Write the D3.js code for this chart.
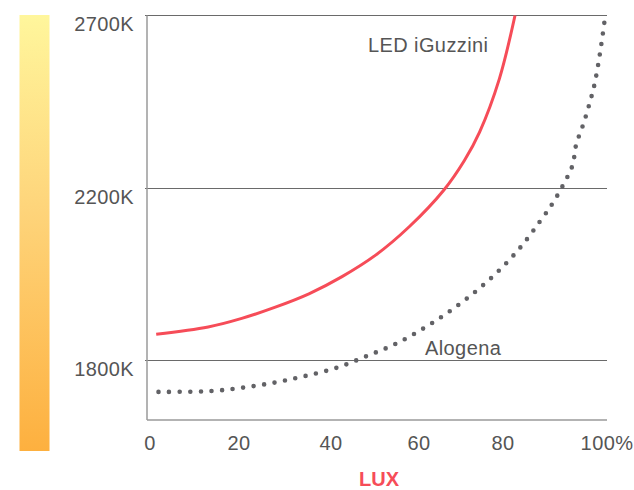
<!DOCTYPE html>
<html>
<head>
<meta charset="utf-8">
<script src="https://cdn.jsdelivr.net/npm/d3@7"></script>
<style>
  html, body { margin: 0; padding: 0; background: #fff; }
  svg { display: block; }
  text { font-family: "Liberation Sans", Arial, Helvetica, sans-serif; }
</style>
</head>
<body>
<script>
// ---- data ----
const yTicks = [1800, 2200, 2700];
const yTickLabels = ["1800K", "2200K", "2700K"];
const xTicks = [0, 20, 40, 60, 80, 100];
const xTickLabels = ["0", "20", "40", "60", "80", "100%"];

const ledX = [2, 13.3, 20.6, 27.9, 35.2, 42.4, 49.7, 57, 64.5, 69, 72.3, 76.6, 80];
const ledK = [1861, 1878, 1898, 1924, 1955, 1995, 2045, 2111, 2196, 2281, 2363, 2517, 2700];

const aloX = [2.5, 14, 20.9, 27.9, 34.4, 41.2, 47.7, 54.1, 60.3, 66, 71.6, 76.7, 81.4, 85.4, 88.2, 90.5, 92.5, 93.3, 94.8, 96.1, 97.3, 98.5, 99.6];
const aloK = [1727, 1729, 1737, 1749, 1764, 1783, 1810, 1839, 1876, 1916, 1962, 2011, 2066, 2123, 2166, 2211, 2267, 2327, 2384, 2441, 2502, 2593, 2697];

const seriesNames = ["LED iGuzzini", "Alogena"];
const axisTitle = "LUX";

// ---- layout ----
const W = 634, H = 490;
const mLeft = 147, mRight = 607, mTop = 15.5, mBottom = 420;

const svg = d3.select("body").append("svg").attr("width", W).attr("height", H);

const x = d3.scaleLinear().domain([0, 100]).range([mLeft, mRight]);
// evenly spaced reference levels (piecewise linear)
const y = d3.scaleLinear().domain(yTicks).range([360.5, 188.5, mTop]);

// gradient bar
const defs = svg.append("defs");
const grad = defs.append("linearGradient").attr("id", "warm")
  .attr("x1", 0).attr("y1", 0).attr("x2", 0).attr("y2", 1);
grad.append("stop").attr("offset", "0%").attr("stop-color", "#fff69c");
grad.append("stop").attr("offset", "45%").attr("stop-color", "#fed47a");
grad.append("stop").attr("offset", "100%").attr("stop-color", "#fdb03f");
svg.append("rect").attr("x", 19.5).attr("y", 15).attr("width", 30).attr("height", 436)
  .attr("fill", "url(#warm)");

// gridlines
svg.append("g").selectAll("line").data(yTicks).join("line")
  .attr("x1", mLeft - 2).attr("x2", mRight)
  .attr("y1", d => y(d)).attr("y2", d => y(d))
  .attr("stroke", "#6a6a6a").attr("stroke-width", 1);

// axes lines
svg.append("line").attr("x1", mLeft).attr("x2", mLeft).attr("y1", mTop).attr("y2", mBottom)
  .attr("stroke", "#9a9a9a").attr("stroke-width", 1.5);
svg.append("line").attr("x1", mLeft).attr("x2", mRight).attr("y1", mBottom).attr("y2", mBottom)
  .attr("stroke", "#9a9a9a").attr("stroke-width", 1.5);

// y labels
svg.append("g").selectAll("text").data(yTicks).join("text")
  .attr("x", 134).attr("y", d => y(d) + 8)
  .attr("text-anchor", "end").attr("dominant-baseline", "central")
  .attr("font-size", 20).attr("letter-spacing", 0.4).attr("fill", "#555")
  .text((d, i) => yTickLabels[i]);

// x labels
svg.append("g").selectAll("text").data(xTicks).join("text")
  .attr("x", d => x(d) + (d === 0 ? 3 : 0) - (d === 80 ? 12 : d === 60 ? 4 : 0))
  .attr("y", 443)
  .attr("text-anchor", "middle").attr("dominant-baseline", "central")
  .attr("font-size", 20).attr("letter-spacing", 0.4).attr("fill", "#555")
  .text((d, i) => xTickLabels[i]);

// axis title
svg.append("text").attr("x", 379).attr("y", 479)
  .attr("text-anchor", "middle").attr("dominant-baseline", "central")
  .attr("font-size", 20).attr("font-weight", "bold").attr("fill", "#f64c58")
  .text(axisTitle);

const line = d3.line().x(d => x(d[0])).y(d => y(d[1])).curve(d3.curveCatmullRom.alpha(0.5));

// Alogena (dotted)
svg.append("path").datum(d3.zip(aloX, aloK))
  .attr("d", line).attr("fill", "none")
  .attr("stroke", "#626266").attr("stroke-width", 4.6)
  .attr("stroke-linecap", "round").attr("stroke-dasharray", "0 10.6");

// LED (solid red)
svg.append("path").datum(d3.zip(ledX, ledK))
  .attr("d", line).attr("fill", "none")
  .attr("stroke", "#f64c58").attr("stroke-width", 3);

// series labels
svg.append("text").attr("x", 368).attr("y", 52)
  .attr("font-size", 20).attr("letter-spacing", 0.4).attr("fill", "#555")
  .text(seriesNames[0]);
svg.append("text").attr("x", 425).attr("y", 355)
  .attr("font-size", 20).attr("letter-spacing", 0.4).attr("fill", "#555")
  .text(seriesNames[1]);
</script>
</body>
</html>
